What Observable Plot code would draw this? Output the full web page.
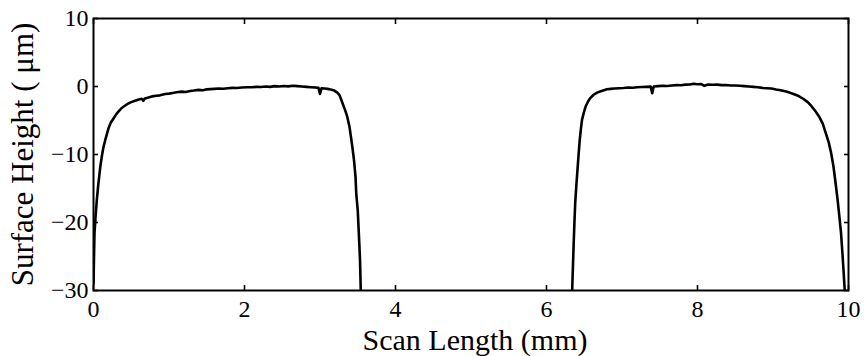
<!DOCTYPE html>
<html>
<head>
<meta charset="utf-8">
<script src="https://cdn.jsdelivr.net/npm/d3@7"></script>
<script src="https://cdn.jsdelivr.net/npm/@observablehq/plot@0.6"></script>
<style>
  body { margin: 0; background: #fff; }
  #chart { width: 864px; height: 356px; }
</style>
</head>
<body>
<div id="chart"></div>
<script>
// Axis ticks
const xTicks = [0, 2, 4, 6, 8, 10];
const yTicks = [10, 0, -10, -20, -30];

// First land of the scanned profile: scan position (mm) and surface height (µm)
const scanA = [0, 0.005, 0.013, 0.028, 0.044, 0.06, 0.075, 0.09, 0.11, 0.13, 0.155, 0.18, 0.2, 0.23, 0.265, 0.3, 0.33, 0.37, 0.42, 0.46, 0.5, 0.55, 0.6, 0.64, 0.66, 0.68, 0.73, 0.78, 0.83, 0.88, 0.95, 1.0, 1.05, 1.1, 1.17, 1.22, 1.28, 1.33, 1.39, 1.45, 1.5, 1.55, 1.6, 1.66, 1.72, 1.78, 1.84, 1.9, 1.96, 2.04, 2.1, 2.16, 2.22, 2.28, 2.34, 2.4, 2.46, 2.52, 2.58, 2.64, 2.7, 2.76, 2.82, 2.88, 2.94, 2.98, 3.0, 3.02, 3.06, 3.1, 3.14, 3.19, 3.23, 3.26, 3.29, 3.33, 3.36, 3.39, 3.41, 3.43, 3.45, 3.47, 3.48, 3.5, 3.51, 3.52, 3.53, 3.54];
const heightA = [-29, -26, -21.6, -19, -16.7, -14.8, -13.3, -11.8, -10.3, -9.0, -7.9, -6.9, -6.1, -5.3, -4.7, -4.1, -3.7, -3.2, -2.8, -2.5, -2.3, -2.1, -1.9, -1.8, -2.1, -1.75, -1.6, -1.45, -1.35, -1.3, -1.1, -1.05, -0.95, -0.85, -0.75, -0.8, -0.65, -0.6, -0.5, -0.55, -0.42, -0.38, -0.35, -0.3, -0.32, -0.25, -0.2, -0.22, -0.15, -0.1, -0.12, -0.05, -0.08, 0.0, -0.05, 0.05, 0.0, 0.08, 0.02, 0.1, 0.05, 0.0, -0.05, -0.1, -0.15, -0.2, -1.1, -0.25, -0.3, -0.35, -0.45, -0.6, -0.9, -1.3, -2.2, -3.4, -4.4, -5.9, -7.4, -9.0, -10.8, -13.2, -15.7, -18.2, -20.6, -23, -25.5, -30];

// Second land of the scanned profile
const scanB = [6.34, 6.35, 6.36, 6.37, 6.38, 6.395, 6.41, 6.425, 6.44, 6.455, 6.47, 6.495, 6.52, 6.55, 6.58, 6.62, 6.67, 6.72, 6.76, 6.8, 6.85, 6.9, 6.96, 7.02, 7.08, 7.14, 7.2, 7.26, 7.32, 7.38, 7.40, 7.42, 7.48, 7.54, 7.6, 7.66, 7.72, 7.78, 7.84, 7.9, 7.95, 8.0, 8.05, 8.09, 8.14, 8.2, 8.26, 8.32, 8.38, 8.44, 8.5, 8.56, 8.62, 8.68, 8.74, 8.8, 8.86, 8.92, 8.98, 9.04, 9.1, 9.16, 9.22, 9.28, 9.34, 9.4, 9.46, 9.51, 9.56, 9.61, 9.66, 9.7, 9.74, 9.77, 9.8, 9.83, 9.855, 9.88, 9.9, 9.92, 9.935, 9.95];
const heightB = [-30, -26.5, -23.1, -20, -17.2, -14.6, -12.3, -10, -7.9, -6.3, -4.9, -3.8, -2.9, -2.2, -1.7, -1.25, -0.9, -0.7, -0.55, -0.4, -0.35, -0.3, -0.25, -0.22, -0.15, -0.18, -0.1, -0.08, -0.05, -0.02, -1.0, 0.0, 0.05, 0.1, 0.08, 0.15, 0.2, 0.18, 0.28, 0.3, 0.4, 0.32, 0.35, 0.1, 0.3, 0.25, 0.28, 0.2, 0.22, 0.15, 0.15, 0.1, 0.05, 0.0, -0.05, -0.1, -0.2, -0.25, -0.3, -0.45, -0.55, -0.7, -0.9, -1.15, -1.4, -1.8, -2.3, -2.9, -3.6, -4.4, -5.5, -6.9, -8.3, -9.8, -11.7, -14.3, -16.6, -19.2, -21.4, -24.6, -27.2, -30];

const xTitle = "Scan Length (mm)";
const yTitle = "Surface Height ( μm)";

const profile = [
  ...scanA.map((s, i) => ({scan: s, height: heightA[i], land: "A"})),
  ...scanB.map((s, i) => ({scan: s, height: heightB[i], land: "B"}))
];

const serif = "'Liberation Serif', 'Times New Roman', Times, serif";
const blank = () => "";

const chart = Plot.plot({
  width: 864,
  height: 356,
  marginLeft: 93,
  marginRight: 16,
  marginTop: 18,
  marginBottom: 66,
  style: {fontFamily: serif, background: "#fff", color: "#000"},
  x: {domain: [0, 10]},
  y: {domain: [-30, 10]},
  marks: [
    Plot.line(profile, {x: "scan", y: "height", z: "land", stroke: "#000", strokeWidth: 2.6, clip: true}),
    // labelled axes, ticks pointing into the plot
    Plot.axisX({anchor: "bottom", ticks: xTicks, tickSize: -5, tickPadding: 14, fontSize: 24, strokeWidth: 1.6, label: null}),
    Plot.axisY({anchor: "left", ticks: yTicks, tickSize: -5, tickPadding: 10, fontSize: 24, strokeWidth: 1.6, label: null}),
    // unlabelled ticks on the top and right edges of the box
    Plot.axisX({anchor: "top", ticks: xTicks, tickSize: -5, tickFormat: blank, strokeWidth: 1.6, label: null}),
    Plot.axisY({anchor: "right", ticks: yTicks, tickSize: -5, tickFormat: blank, strokeWidth: 1.6, label: null}),
    Plot.frame({stroke: "#000", strokeWidth: 2}),
    // axis titles
    Plot.text([xTitle], {frameAnchor: "bottom", textAnchor: "middle", lineAnchor: "middle", dx: 4, dy: 50, text: d => d, fontSize: 30, fill: "#000"}),
    Plot.text([yTitle], {frameAnchor: "left", textAnchor: "middle", lineAnchor: "middle", dx: -70, rotate: -90, text: d => d, fontSize: 31, fill: "#000"})
  ]
});

document.getElementById("chart").appendChild(chart);
</script>
</body>
</html>
